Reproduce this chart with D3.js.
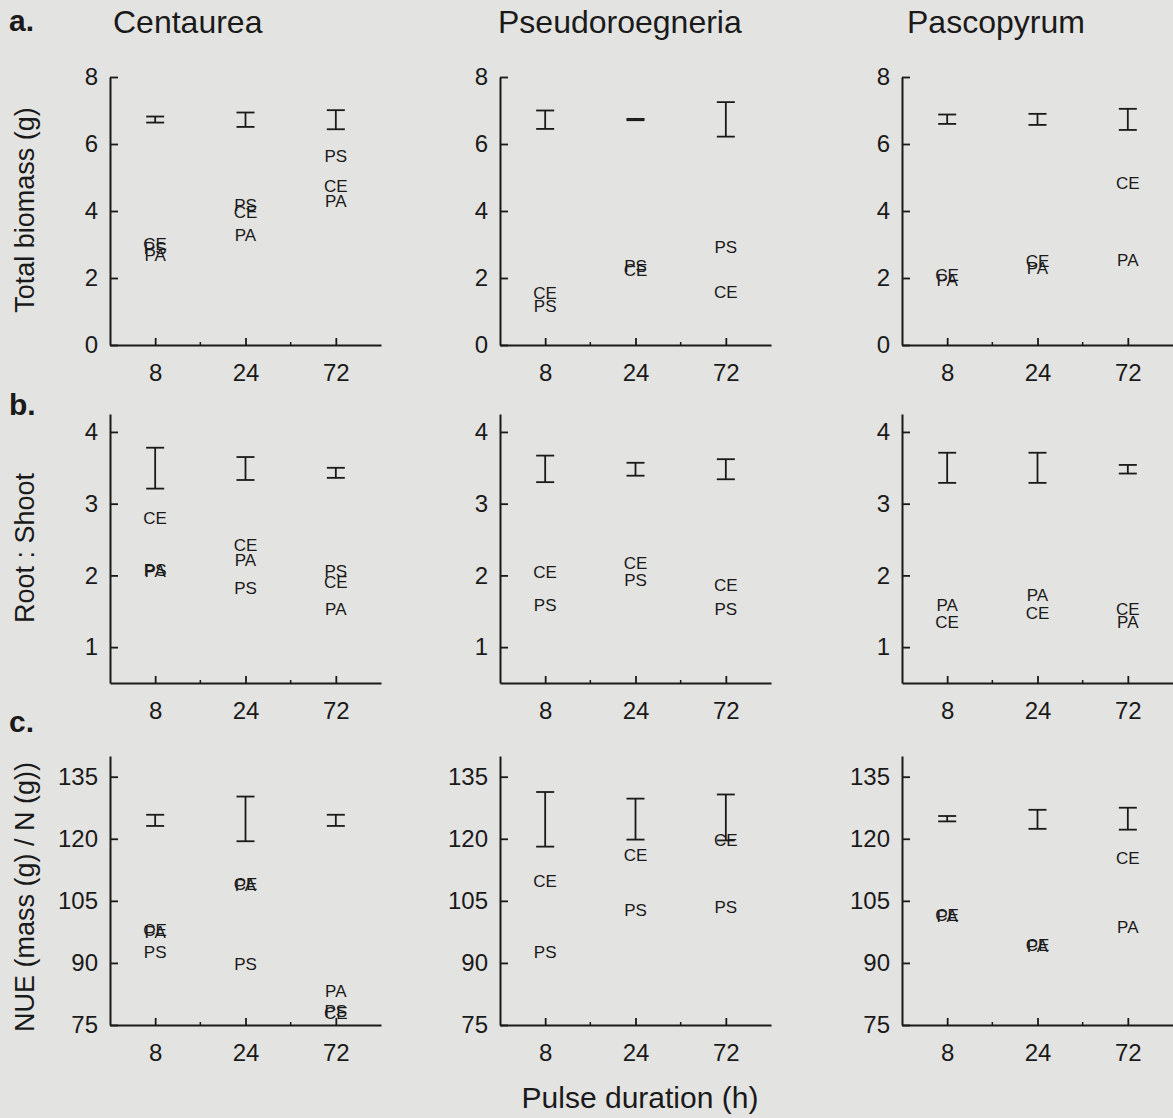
<!DOCTYPE html>
<html>
<head>
<meta charset="utf-8">
<script src="https://cdn.jsdelivr.net/npm/d3@7"></script>
<style>
  body { margin: 0; background: #e3e3e1; }
  svg { display: block; font-family: "Liberation Sans", Arial, sans-serif; }
</style>
</head>
<body>
<div id="chart"></div>
<script>
// categories
const durations = ["8", "24", "72"];
const species = ["Centaurea", "Pseudoroegneria", "Pascopyrum"];
const rowLetters = ["a.", "b.", "c."];
const rowTitles = ["Total biomass (g)", "Root : Shoot", "NUE (mass (g) / N (g))"];
const biomassTicks = [0, 2, 4, 6, 8];
const ratioTicks = [1, 2, 3, 4];
const nueTicks = [75, 90, 105, 120, 135];

// points: [pulse duration, neighbour code, value]
const biomassCen = [["8","CE",3.02],["8","PS",2.9],["8","PA",2.68],["24","PS",4.18],["24","CE",3.98],["24","PA",3.3],["72","PS",5.64],["72","CE",4.75],["72","PA",4.3]];
const biomassPse = [["8","CE",1.57],["8","PS",1.18],["24","PS",2.37],["24","CE",2.25],["72","PS",2.94],["72","CE",1.59]];
const biomassPas = [["8","CE",2.1],["8","PA",1.95],["24","CE",2.5],["24","PA",2.3],["72","CE",4.85],["72","PA",2.55]];

const ratioCen = [["8","CE",2.8],["8","PS",2.08],["8","PA",2.06],["24","CE",2.42],["24","PA",2.22],["24","PS",1.83],["72","PS",2.06],["72","CE",1.91],["72","PA",1.53]];
const ratioPse = [["8","CE",2.05],["8","PS",1.59],["24","CE",2.17],["24","PS",1.94],["72","CE",1.87],["72","PS",1.53]];
const ratioPas = [["8","PA",1.59],["8","CE",1.35],["24","PA",1.73],["24","CE",1.48],["72","CE",1.54],["72","PA",1.35]];

const nueCen = [["8","CE",98.0],["8","PA",97.6],["8","PS",92.7],["24","CE",109.0],["24","PA",108.8],["24","PS",89.8],["72","PA",83.3],["72","PS",78.4],["72","CE",78.0]];
const nuePse = [["8","CE",109.8],["8","PS",92.7],["24","CE",116.0],["24","PS",102.9],["72","CE",119.8],["72","PS",103.5]];
const nuePas = [["8","CE",101.6],["8","PA",101.4],["24","CE",94.3],["24","PA",94.1],["72","CE",115.5],["72","PA",98.7]];

// error bars [low, high] for 8, 24, 72 h
const biomassCenSE = [[6.64,6.82],[6.51,6.94],[6.44,7.01]];
const biomassPseSE = [[6.45,7.0],[6.71,6.75],[6.22,7.25]];
const biomassPasSE = [[6.6,6.88],[6.57,6.9],[6.42,7.05]];
const ratioCenSE = [[3.21,3.78],[3.33,3.65],[3.36,3.5]];
const ratioPseSE = [[3.3,3.67],[3.39,3.57],[3.34,3.62]];
const ratioPasSE = [[3.29,3.71],[3.29,3.71],[3.42,3.54]];
const nueCenSE = [[123.1,125.8],[119.4,130.2],[123.1,125.8]];
const nuePseSE = [[118.1,131.3],[119.8,129.7],[119.6,130.7]];
const nuePasSE = [[124.2,125.5],[122.4,127.0],[122.2,127.5]];

const panelPoints = [[biomassCen, biomassPse, biomassPas],[ratioCen, ratioPse, ratioPas],[nueCen, nuePse, nuePas]];
const panelSE = [[biomassCenSE, biomassPseSE, biomassPasSE],[ratioCenSE, ratioPseSE, ratioPasSE],[nueCenSE, nuePseSE, nuePasSE]];
const rowDomains = [[0, 8], [0.5, 4.25], [75, 140]];
const rowTicks = [biomassTicks, ratioTicks, nueTicks];

// layout
const W = 1173, H = 1118;
const colX = [110, 500, 902];
const plotW = 271;
const rowY = [{top: 77, bottom: 345}, {top: 414, bottom: 683}, {top: 756, bottom: 1025}];
const ink = "#1a1a1a";

const svg = d3.select("#chart").append("svg")
  .attr("width", W)
  .attr("height", H);

svg.append("rect").attr("width", W).attr("height", H).attr("fill", "#e3e3e1");

function styleAxis(sel, size) {
  sel.select(".domain").attr("stroke", ink).attr("stroke-width", 2);
  sel.selectAll(".tick line").attr("stroke", ink).attr("stroke-width", 1.8);
  sel.selectAll(".tick text")
    .attr("fill", ink)
    .style("font-size", size + "px")
    .style("font-family", '"Liberation Sans", Arial, sans-serif');
}

rowY.forEach((ry, r) => {
  colX.forEach((x0, c) => {
    let x = d3.scalePoint().domain(durations).range([x0, x0 + plotW]).padding(0.5);
    let y = d3.scaleLinear().domain(rowDomains[r]).range([ry.bottom, ry.top]);
    let g = svg.append("g");

    let xa = g.append("g")
      .attr("transform", `translate(0, ${ry.bottom})`)
      .call(d3.axisBottom(x).tickSizeInner(-7).tickSizeOuter(0).tickPadding(19));
    styleAxis(xa, 24);

    // small ticks between the durations
    let mids = d3.pairs(durations).map(p => (x(p[0]) + x(p[1])) / 2);
    g.selectAll(".minor")
      .data(mids)
      .enter()
      .append("line")
      .attr("x1", d => d).attr("x2", d => d)
      .attr("y1", ry.bottom).attr("y2", ry.bottom - 3)
      .attr("stroke", ink).attr("stroke-width", 1.5);

    let ya = g.append("g")
      .attr("transform", `translate(${x0}, 0)`)
      .call(d3.axisLeft(y).tickValues(rowTicks[r]).tickFormat(d3.format("d"))
        .tickSizeInner(-8).tickSizeOuter(0).tickPadding(12));
    styleAxis(ya, 24);

    // error bars
    let se = panelSE[r][c];
    let eb = g.selectAll(".errbar")
      .data(se)
      .enter()
      .append("g")
      .attr("transform", (d, i) => `translate(${x(durations[i])}, 0)`);
    eb.append("line").attr("x1", 0).attr("x2", 0)
      .attr("y1", d => y(d[0])).attr("y2", d => y(d[1]))
      .attr("stroke", ink).attr("stroke-width", 1.8);
    eb.append("line").attr("x1", -9).attr("x2", 9)
      .attr("y1", d => y(d[0])).attr("y2", d => y(d[0]))
      .attr("stroke", ink).attr("stroke-width", 1.8);
    eb.append("line").attr("x1", -9).attr("x2", 9)
      .attr("y1", d => y(d[1])).attr("y2", d => y(d[1]))
      .attr("stroke", ink).attr("stroke-width", 1.8);

    // neighbour labels used as markers
    g.selectAll(".pt")
      .data(panelPoints[r][c])
      .enter()
      .append("text")
      .attr("x", d => x(d[0]))
      .attr("y", d => y(d[2]))
      .attr("dy", "0.36em")
      .attr("text-anchor", "middle")
      .attr("fill", ink)
      .style("font-size", "17px")
      .text(d => d[1]);
  });

  // row letter
  svg.append("text")
    .attr("x", 9)
    .attr("y", [31, 415, 732][r])
    .attr("fill", ink)
    .style("font-size", "30px")
    .style("font-weight", "bold")
    .text(rowLetters[r]);

  // row y title
  svg.append("text")
    .attr("transform", `translate(25, ${[210, 548, 897][r]}) rotate(-90)`)
    .attr("text-anchor", "middle")
    .attr("dy", "0.35em")
    .attr("fill", ink)
    .style("font-size", "27px")
    .text(rowTitles[r]);
});

// species titles
svg.selectAll(".sp")
  .data(species)
  .enter()
  .append("text")
  .attr("x", (d, i) => [113, 498, 907][i])
  .attr("y", 33)
  .attr("fill", ink)
  .style("font-size", "32px")
  .text(d => d);

svg.append("text")
  .attr("x", 640)
  .attr("y", 1108)
  .attr("text-anchor", "middle")
  .attr("fill", ink)
  .style("font-size", "30px")
  .text("Pulse duration (h)");
</script>
</body>
</html>
